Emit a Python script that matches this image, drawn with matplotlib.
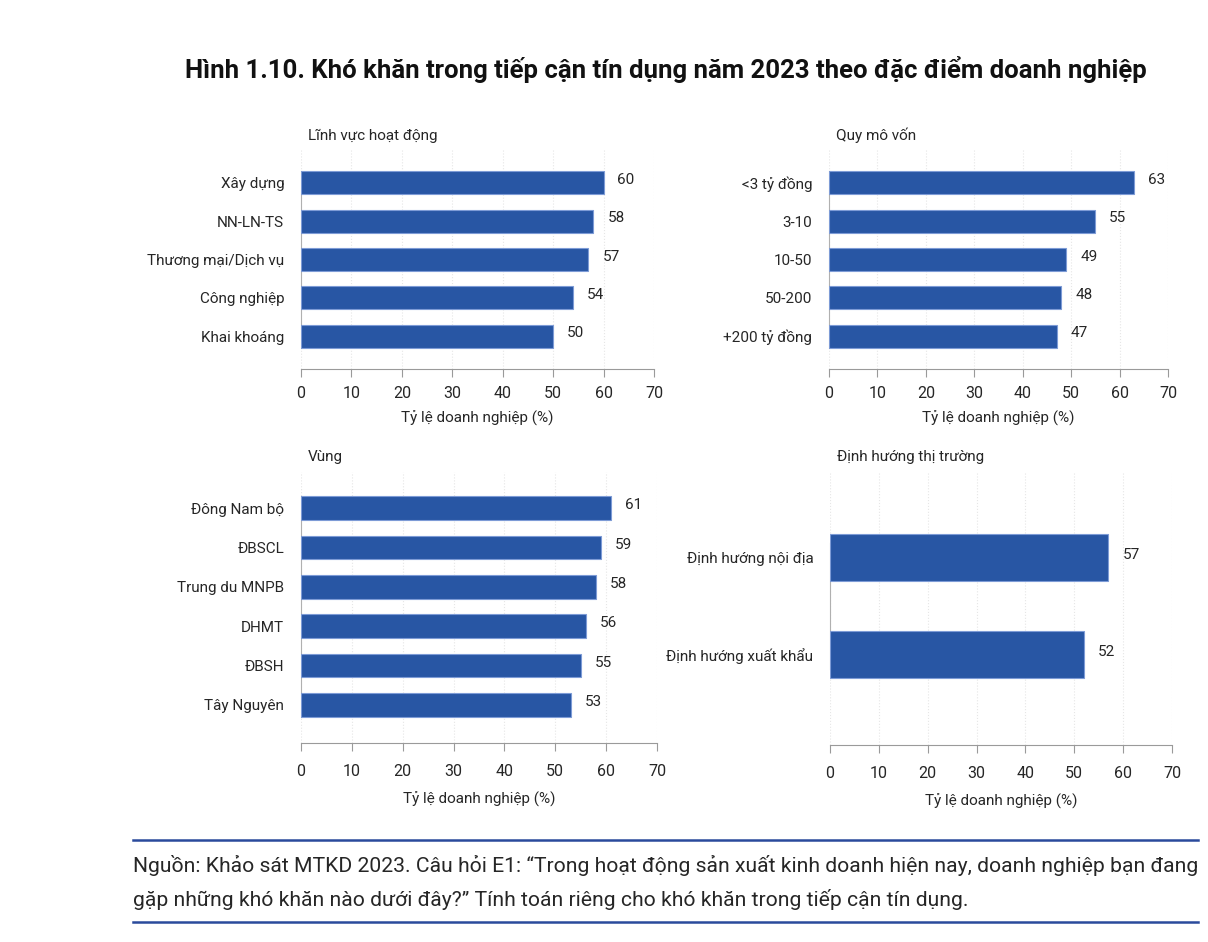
import matplotlib
matplotlib.use("Agg")
import matplotlib.pyplot as plt

plt.rcParams['font.family'] = ['Roboto', 'DejaVu Sans']

# ---- data ----
sector_labels = ["Xây dựng", "NN-LN-TS", "Thương mại/Dịch vụ", "Công nghiệp", "Khai khoáng"]
sector_values = [60, 58, 57, 54, 50]

capital_labels = ["<3 tỷ đồng", "3-10", "10-50", "50-200", "+200 tỷ đồng"]
capital_values = [63, 55, 49, 48, 47]

region_labels = ["Đông Nam bộ", "ĐBSCL", "Trung du MNPB", "DHMT", "ĐBSH", "Tây Nguyên"]
region_values = [61, 59, 58, 56, 55, 53]

market_labels = ["Định hướng nội địa", "Định hướng xuất khẩu"]
market_values = [57, 52]

xticks = [0, 10, 20, 30, 40, 50, 60, 70]
xlabel = "Tỷ lệ doanh nghiệp (%)"

BAR = "#2856a4"
EDGE = "#7d9bd6"
TXT = "#262626"
W, H = 1208, 942

fig = plt.figure(figsize=(W / 100, H / 100), dpi=100)


def px_axes(left, top, right, bottom):
    return fig.add_axes([left / W, 1 - bottom / H, (right - left) / W, (bottom - top) / H])


def panel(rect, labels, values, title, bar_h, pad_top, pad_bot, spine_pad, tpad=6, lpad=8):
    ax = px_axes(*rect)
    n = len(labels)
    ypos = list(range(n))
    ax.barh(ypos, values, height=bar_h, color=BAR, edgecolor=EDGE, linewidth=0.8, zorder=3)
    for y, v in zip(ypos, values):
        ax.annotate(f"{v}", (v, y), xytext=(10, 2), textcoords="offset points",
                    va="center", ha="left", fontsize=11, color=TXT)
    ax.set_ylim(n - 1 + pad_bot, -pad_top)
    ax.set_xlim(0, 70)
    ax.set_xticks(xticks)
    ax.set_yticks(ypos)
    ax.set_yticklabels(labels, fontsize=11, color=TXT)
    ax.tick_params(axis="y", length=0, pad=12)
    ax.tick_params(axis="x", length=6, color="#9a9a9a", labelsize=11.5,
                   labelcolor=TXT, pad=tpad)
    for s in ["top", "right"]:
        ax.spines[s].set_visible(False)
    ax.spines["bottom"].set_color("#9a9a9a")
    ax.spines["bottom"].set_bounds(0, 70)
    ax.spines["left"].set_color("#b0b0b0")
    ax.spines["left"].set_bounds(n - 1 + spine_pad, -spine_pad)
    ax.grid(axis="x", color="#e6e6e6", linestyle=":", linewidth=0.8, zorder=0)
    ax.set_xlabel(xlabel, fontsize=11, color=TXT, labelpad=lpad)
    ax.text(0.02, 1.03, title, transform=ax.transAxes, fontsize=11, color=TXT,
            ha="left", va="bottom")
    return ax


panel((301, 150, 654, 369), sector_labels, sector_values, "Lĩnh vực hoạt động", 0.6, 0.86, 0.86, 0.3, 6, 7)
panel((829, 150, 1168, 369), capital_labels, capital_values, "Quy mô vốn", 0.6, 0.86, 0.86, 0.3, 6, 7)
panel((301, 472, 657, 743), region_labels, region_values, "Vùng", 0.6, 0.92, 0.97, 0.3, 9, 9)
panel((830, 472, 1172, 745), market_labels, market_values, "Định hướng thị trường", 0.49, 0.88, 0.93, 0.15, 9, 9)

fig.text(666 / W, 1 - 70 / H,
         "Hình 1.10. Khó khăn trong tiếp cận tín dụng năm 2023 theo đặc điểm doanh nghiệp",
         ha="center", va="center", fontsize=18.5, fontweight="bold", color="#111111")

fig.add_artist(plt.Line2D([133 / W, 1198 / W], [1 - 840 / H, 1 - 840 / H], color="#2a4a9c", lw=1.8))
fig.add_artist(plt.Line2D([133 / W, 1198 / W], [1 - 922 / H, 1 - 922 / H], color="#2a4a9c", lw=1.8))
fig.text(133 / W, 1 - 866 / H,
         "Nguồn: Khảo sát MTKD 2023. Câu hỏi E1: “Trong hoạt động sản xuất kinh doanh hiện nay, doanh nghiệp bạn đang",
         ha="left", va="center", fontsize=15.2, color=TXT)
fig.text(133 / W, 1 - 900 / H,
         "gặp những khó khăn nào dưới đây?” Tính toán riêng cho khó khăn trong tiếp cận tín dụng.",
         ha="left", va="center", fontsize=15.2, color=TXT)

fig.savefig("out.png", dpi=100, facecolor="white")
